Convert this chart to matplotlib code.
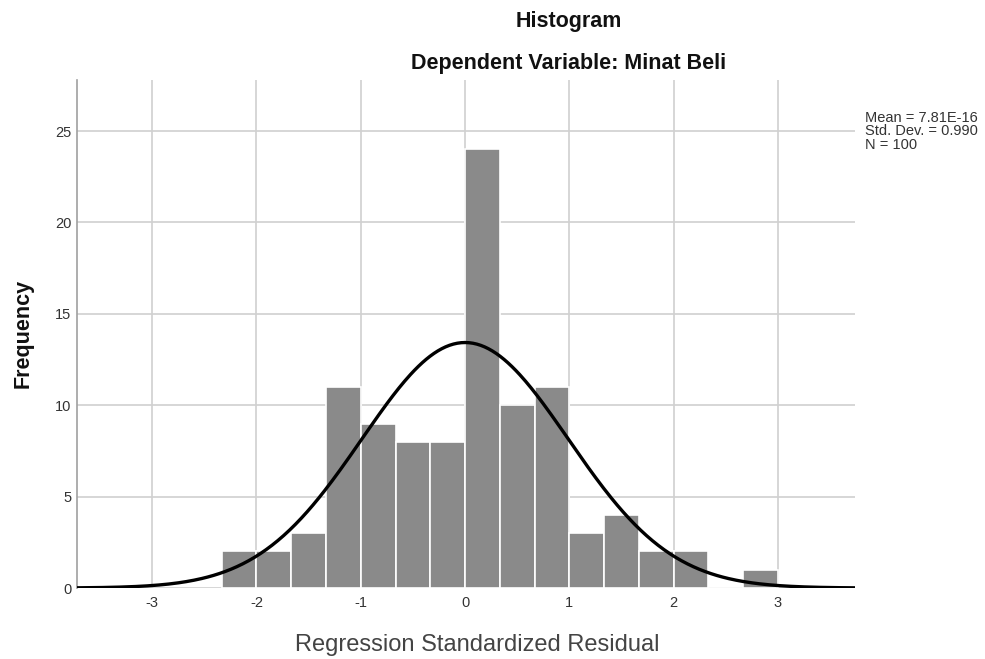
"""Histogram of regression standardized residuals with normal curve."""
import numpy as np
import matplotlib

matplotlib.use("Agg")
import matplotlib.pyplot as plt  # noqa: E402

plt.rcParams["font.family"] = ["Liberation Sans", "DejaVu Sans"]
plt.rcParams["axes.unicode_minus"] = False

# bin edges (width 1/3) and counts
bin_edges = np.arange(-7, 10) / 3.0
counts = [2, 2, 3, 11, 9, 8, 8, 24, 10, 11, 3, 4, 2, 2, 0, 1]
mean = 7.81e-16
std = 0.990
n = 100

x_ticks = [-3, -2, -1, 0, 1, 2, 3]
y_ticks = [0, 5, 10, 15, 20, 25]

fig = plt.figure(figsize=(9.85, 6.59), dpi=100)
ax = fig.add_axes([0.0782, 0.1077, 0.790, 0.771])

widths = np.diff(bin_edges)
ax.bar(bin_edges[:-1], counts, width=widths, align="edge",
       color="#8a8a8a", edgecolor="white", linewidth=1.2, zorder=2)

xs = np.linspace(-3.72, 3.74, 400)
bw = widths[0]
ys = n * bw / (std * np.sqrt(2 * np.pi)) * np.exp(-0.5 * ((xs - mean) / std) ** 2)
ax.plot(xs, ys, color="black", lw=2.4, zorder=3)

ax.set_xlim(-3.72, 3.74)
ax.set_ylim(0, 27.8)
ax.set_xticks(x_ticks)
ax.set_yticks(y_ticks)
ax.tick_params(length=0, labelsize=10.5, colors="#333333")
ax.tick_params(axis="x", pad=6)
ax.tick_params(axis="y", pad=4)
ax.grid(color="#d0d0d0", lw=1.2, zorder=0)
ax.set_axisbelow(True)
for side in ("top", "right", "bottom"):
    ax.spines[side].set_visible(False)
ax.spines["left"].set_color("#a0a0a0")
ax.spines["left"].set_linewidth(1.2)

fig.text(0.023, 1 - 333 / 659, "Frequency", rotation=90, ha="center",
         va="center", fontsize=15.5, fontweight="bold", color="#111111")
fig.text(0.485, 1 - 645 / 659, "Regression Standardized Residual",
         ha="center", va="center", fontsize=17, color="#444444")

fig.text(0.577, 1 - 21 / 659, "Histogram", ha="center", va="center",
         fontsize=15.5, fontweight="bold", color="#111111")
fig.text(0.577, 1 - 63 / 659, "Dependent Variable: Minat Beli", ha="center",
         va="center", fontsize=15.5, fontweight="bold", color="#111111")
fig.text(0.878, 1 - 111 / 659, "Mean = 7.81E-16\nStd. Dev. = 0.990\nN = 100",
         ha="left", va="top", fontsize=10.5, color="#333333", linespacing=0.95)

fig.savefig("out.png")
plt.close(fig)
